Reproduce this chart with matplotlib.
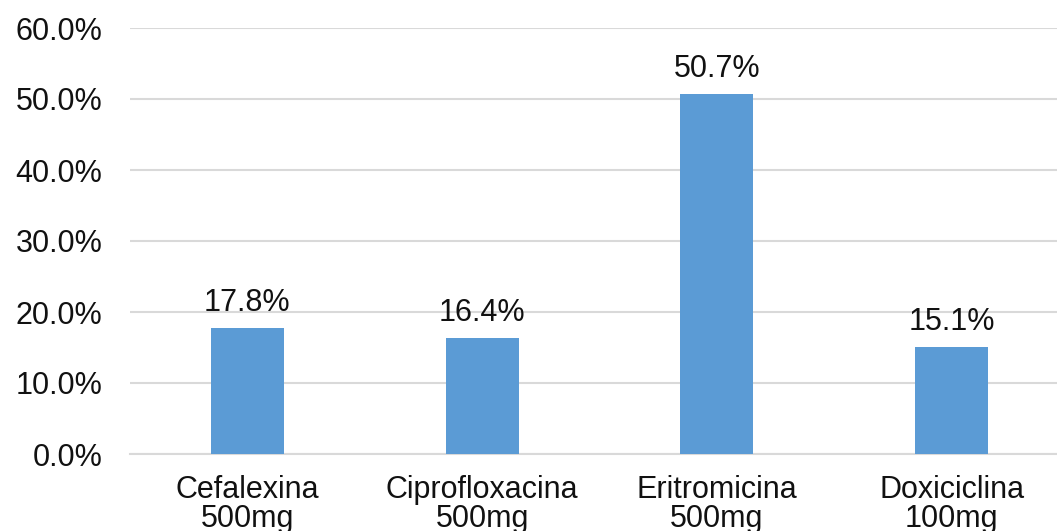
import matplotlib.pyplot as plt

plt.rcParams['font.family'] = ['Liberation Sans', 'DejaVu Sans']

drugs = ["Cefalexina\n500mg", "Ciprofloxacina\n500mg", "Eritromicina\n500mg", "Doxiciclina\n100mg"]
pct = [17.8, 16.4, 50.7, 15.1]
yticks = [0, 10, 20, 30, 40, 50, 60]

fig = plt.figure(figsize=(10.57, 5.31), dpi=100)
ax = fig.add_axes([130 / 1057, 77 / 531, 939 / 1057, 426 / 531])

x = range(len(drugs))
bars = ax.bar(x, pct, width=0.31, color='#5B9BD5', zorder=3)

for b, v in zip(bars, pct):
    ax.annotate('%.1f%%' % v, (b.get_x() + b.get_width() / 2, v),
                xytext=(0, 12), textcoords='offset points',
                ha='center', va='baseline', fontsize=22, color='#111111')

ax.set_xlim(-0.5, len(drugs) - 0.5)
ax.set_ylim(0, 60)
ax.set_yticks(yticks)
ax.set_yticklabels(['%.1f%%' % t for t in yticks])
ax.set_xticks(list(x))
ax.set_xticklabels(drugs, linespacing=0.95)
ax.tick_params(axis='y', length=0, pad=20, labelsize=22, labelcolor='#111111')
ax.tick_params(axis='x', length=0, pad=15, labelsize=22, labelcolor='#111111')

ax.grid(axis='y', color='#D9D9D9', linewidth=1.5, zorder=0)
for s in ['top', 'right', 'left']:
    ax.spines[s].set_visible(False)
ax.spines['bottom'].set_color('#D9D9D9')
ax.spines['bottom'].set_linewidth(1.5)

fig.savefig('out.png', dpi=100)
